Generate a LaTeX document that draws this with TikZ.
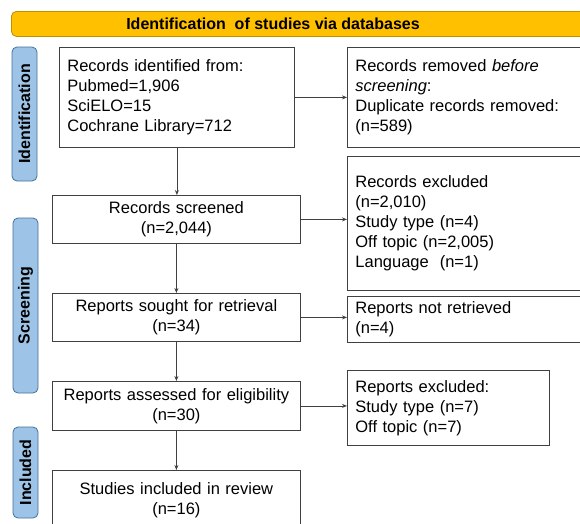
\documentclass[tikz,border=0pt]{standalone}
\usepackage{fontspec}
\setmainfont{Liberation Sans}
\usetikzlibrary{arrows.meta}
\definecolor{bannerfill}{HTML}{FFC000}
\definecolor{bannerdraw}{HTML}{BF9000}
\definecolor{sidefill}{HTML}{9DC3E6}
\definecolor{sidedraw}{HTML}{41719C}
\definecolor{boxgray}{HTML}{404040}
\tikzset{
  box/.style={draw=boxgray, line width=0.8pt, inner xsep=8pt, inner ysep=0pt,
    font=\fontsize{16.5}{20}\selectfont, anchor=north west},
  lbox/.style={box, align=left},
  cbox/.style={box, align=center},
  side/.style={draw=sidedraw, fill=sidefill, line width=0.8pt, rounded corners=5pt,
    rotate=90, minimum height=25pt, inner sep=0pt, font=\fontsize{16}{18}\selectfont\bfseries},
  arr/.style={draw=boxgray, line width=0.8pt, -{Stealth[length=5pt,width=4pt]}}
}
\begin{document}
\begin{tikzpicture}[x=1pt,y=-1pt]
\useasboundingbox (0,0) rectangle (580,523);
\clip (0,0) rectangle (580,523);
% banner
\node[draw=bannerdraw, fill=bannerfill, line width=0.8pt, rounded corners=5pt,
  anchor=north west, minimum width=600pt, minimum height=25pt, inner sep=0pt] (banner) at (11,11) {};
\node[font=\fontsize{16}{18}\selectfont\bfseries] (btitle) at (273,23.5) {Identification\ \ of studies via databases};
% side labels
\node[side, minimum width=134pt] (sid) at (24.5,114) {Identification};
\node[side, minimum width=175pt] (sscr) at (25.5,305.5) {Screening};
\node[side, minimum width=91pt] (sinc) at (25.5,472.5) {Included};
% left column
\node[lbox, minimum width=235pt, minimum height=100pt, text width=219pt] (id) at (59,47)
  {Records identified from:\\Pubmed=1,906\\SciELO=15\\Cochrane Library=712};
\node[cbox, minimum width=248pt, minimum height=48pt, text width=232pt] (scr) at (52,195)
  {Records screened\\(n=2,044)};
\node[cbox, minimum width=248pt, minimum height=48pt, text width=232pt] (sou) at (52,293)
  {Reports sought for retrieval\\(n=34)};
\node[cbox, minimum width=248pt, minimum height=49pt, text width=232pt] (ass) at (52,381)
  {Reports assessed for eligibility\\(n=30)};
\node[cbox, minimum width=248pt, minimum height=60pt, text width=232pt] (inc) at (52,470)
  {Studies included in review\\(n=16)};
% right column
\node[lbox, minimum width=245pt, minimum height=100pt, text width=229pt] (rem) at (347,47)
  {Records removed \textit{before}\\\textit{screening}:\\Duplicate records removed:\\(n=589)};
\node[lbox, minimum width=245pt, minimum height=134pt, text width=229pt] (exc) at (347,156)
  {Records excluded\\(n=2,010)\\Study type (n=4)\\Off topic (n=2,005)\\Language\ \ (n=1)};
\node[lbox, minimum width=245pt, minimum height=46pt, text width=229pt] (nre) at (347,296)
  {Reports not retrieved\\(n=4)};
\node[lbox, minimum width=202pt, minimum height=75pt, text width=186pt] (rex) at (347,370)
  {Reports excluded:\\Study type (n=7)\\Off topic (n=7)};
% connectors
\draw[arr] (id.south) -- (id.south |- scr.north);
\draw[arr] (scr.south) -- (sou.north);
\draw[arr] (sou.south) -- (ass.north);
\draw[arr] (ass.south) -- (inc.north);
\draw[arr] (id.east) -- (id.east -| rem.west);
\draw[arr] (scr.east) -- (scr.east -| exc.west);
\draw[arr] (sou.east) -- (sou.east -| nre.west);
\draw[arr] (ass.east) -- (ass.east -| rex.west);
\end{tikzpicture}
\end{document}
